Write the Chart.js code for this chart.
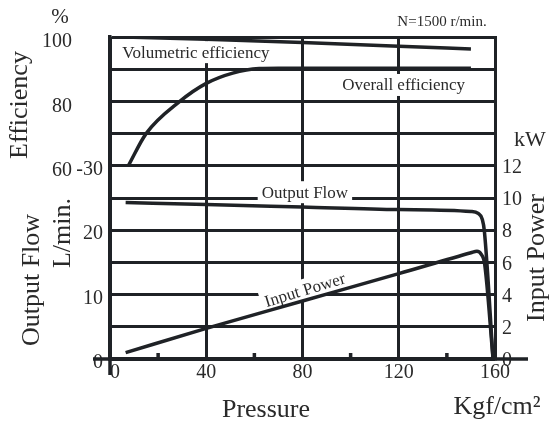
<!DOCTYPE html>
<html>
<head>
<meta charset="utf-8">
<script src="https://cdn.jsdelivr.net/npm/chart.js@4/dist/chart.umd.min.js"></script>
<style>
  html, body { margin: 0; padding: 0; background: #fff; }
  #wrap { width: 551px; height: 423px; }
</style>
</head>
<body>
<div id="wrap"><canvas id="chart"></canvas></div>
<script>
// Pressure (kgf/cm2) and readings of each curve
const volPressure = [6, 40, 80, 120, 150];
const volEff = [100, 99.3, 98.3, 97.1, 96.3];

const overallPressure = [7.6, 15, 29, 40, 51, 62, 70, 110, 150];
const overallEff = [60, 70, 80, 85.6, 88.8, 90.2, 90.3, 90.3, 90.3];

const flowPressure = [6.5, 40, 80, 120, 150, 153, 154.7, 155.6, 159.2];
const flowLmin = [24.3, 24.0, 23.6, 23.2, 22.9, 22.6, 21.7, 19.8, 0];

const powerPressure = [6.5, 40, 80, 120, 150, 152.5, 154.3, 155.7, 159.2];
const powerKw = [0.4, 1.9, 3.6, 5.3, 6.6, 6.7, 6.5, 5.9, 0];

// tick labels
const xTicks = [0, 40, 80, 120, 160];
const xMinorTicks = [20, 60, 100, 140];
const effTicks = [60, 80, 100];
const flowTicks = [0, 10, 20, 30];
const flowTickLabels = ['0', '10', '20', '-30'];
const powerTicks = [0, 2, 4, 6, 8, 10, 12];

const ink = '#1f2226';
const textInk = '#2a2a2a';
const serif = '"Liberation Serif", "Times New Roman", serif';

function pts(xs, ys) {
  return xs.map((x, i) => ({ x: x, y: ys[i] }));
}

function curve(data, axis) {
  return {
    data: data,
    yAxisID: axis,
    borderColor: ink,
    borderWidth: 3.5,
    pointRadius: 0,
    fill: false,
    cubicInterpolationMode: 'monotone'
  };
}

// labels written along the curves
const curveLabels = [
  { text: 'Volumetric efficiency', x: 35.7, y: 95.3, axis: 'yEff', rot: 0 },
  { text: 'Overall efficiency', x: 122, y: 85.1, axis: 'yEff', rot: 0 },
  { text: 'Output Flow', x: 81, y: 25.9, axis: 'yFlow', rot: 0 },
  { text: 'Input Power', x: 81, y: 4.3, axis: 'yPower', rot: -17 }
];

const curveLabelPlugin = {
  id: 'curveLabels',
  beforeDatasetsDraw(chart) {
    const ctx = chart.ctx;
    ctx.save();
    ctx.font = '17px ' + serif;
    ctx.textAlign = 'center';
    ctx.textBaseline = 'middle';
    curveLabels.forEach(l => {
      const px = chart.scales.x.getPixelForValue(l.x);
      const py = chart.scales[l.axis].getPixelForValue(l.y);
      const w = ctx.measureText(l.text).width + 8;
      ctx.save();
      ctx.translate(px, py);
      ctx.rotate(l.rot * Math.PI / 180);
      ctx.fillStyle = '#fff';
      ctx.fillRect(-w / 2, -11, w, 22);
      ctx.fillStyle = textInk;
      ctx.fillText(l.text, 0, 1);
      ctx.restore();
    });
    ctx.restore();
  }
};

const decorPlugin = {
  id: 'decor',
  afterDraw(chart) {
    const ctx = chart.ctx;
    const a = chart.chartArea;
    ctx.save();
    // axis extensions and minor ticks
    ctx.strokeStyle = ink;
    ctx.lineWidth = 3.5;
    ctx.beginPath();
    ctx.moveTo(a.left - 17, a.bottom);
    ctx.lineTo(a.right + 33, a.bottom);
    ctx.moveTo(a.left, a.bottom);
    ctx.lineTo(a.left, a.bottom + 16);
    xMinorTicks.forEach(v => {
      const px = chart.scales.x.getPixelForValue(v);
      ctx.moveTo(px, a.bottom);
      ctx.lineTo(px, a.bottom - 6);
    });
    ctx.stroke();

    // titles
    ctx.fillStyle = textInk;
    ctx.textAlign = 'center';
    ctx.textBaseline = 'middle';
    const put = (text, x, y, size, rot) => {
      ctx.save();
      ctx.font = size + 'px ' + serif;
      ctx.translate(x, y);
      if (rot) ctx.rotate(rot * Math.PI / 180);
      ctx.fillText(text, 0, 0);
      ctx.restore();
    };
    put('N=1500 r/min.', 442, 22, 15);
    put('%', 60, 17, 21);
    put('kW', 530, 140, 22);
    put('Efficiency', 20, 105, 26, -90);
    put('Output Flow', 32, 280, 26, -90);
    put('L/min.', 63, 233, 26, -90);
    put('Input Power', 537, 258, 26, -90);
    put('Pressure', 266, 410, 26);
    put('Kgf/cm\u00b2', 497, 407, 26);
    ctx.restore();
  }
};

const tickFont = { family: serif, size: 20 };

new Chart(document.getElementById('chart'), {
  type: 'line',
  data: {
    datasets: [
      curve(pts(volPressure, volEff), 'yEff'),
      curve(pts(overallPressure, overallEff), 'yEff'),
      curve(pts(flowPressure, flowLmin), 'yFlow'),
      curve(pts(powerPressure, powerKw), 'yPower')
    ]
  },
  options: {
    responsive: true,
    maintainAspectRatio: false,
    animation: false,
    layout: { padding: { top: 37, left: 0, right: 0, bottom: 0 } },
    plugins: {
      legend: { display: false },
      tooltip: { enabled: false }
    },
    scales: {
      x: {
        type: 'linear',
        min: 0,
        max: 160,
        ticks: {
          stepSize: 20,
          autoSkip: false,
          maxRotation: 0,
          padding: 2,
          color: textInk,
          font: tickFont,
          // the 0 sits just right of the extended left axis
          callback: v => v === 0 ? '\u20070' : (xTicks.includes(v) ? String(v) : '')
        },
        grid: {
          drawTicks: false,
          lineWidth: 3,
          color: c => (c.tick && xTicks.includes(c.tick.value)) ? ink : 'rgba(0,0,0,0)'
        },
        border: { color: ink, width: 3.5 },
        afterFit: s => { s.height = 64; }
      },
      yFlow: {
        position: 'left',
        weight: 0,
        min: 0,
        max: 50,
        ticks: {
          stepSize: 5,
          autoSkip: false,
          padding: 7,
          labelOffset: 4,
          color: textInk,
          font: tickFont,
          callback: v => {
            const i = flowTicks.indexOf(v);
            return i >= 0 ? flowTickLabels[i] : '';
          }
        },
        grid: { drawTicks: false, lineWidth: 3, color: ink },
        border: { color: ink, width: 3.5 },
        afterFit: s => { s.width = 38; }
      },
      yEff: {
        position: 'left',
        weight: 1,
        min: 0,
        max: 100,
        ticks: {
          stepSize: 10,
          autoSkip: false,
          padding: 0,
          labelOffset: 5,
          color: textInk,
          font: tickFont,
          callback: v => effTicks.includes(v) ? String(v) : ''
        },
        grid: { display: false, drawTicks: false },
        border: { display: false },
        afterFit: s => { s.width = 72; }
      },
      yPower: {
        position: 'right',
        min: 0,
        max: 20,
        ticks: {
          stepSize: 2,
          autoSkip: false,
          padding: 7,
          labelOffset: 2,
          color: textInk,
          font: tickFont,
          callback: v => powerTicks.includes(v) ? String(v) : ''
        },
        grid: { display: false, drawTicks: false },
        border: { color: ink, width: 3 },
        afterFit: s => { s.width = 56; }
      }
    }
  },
  plugins: [curveLabelPlugin, decorPlugin]
});
</script>
</body>
</html>
